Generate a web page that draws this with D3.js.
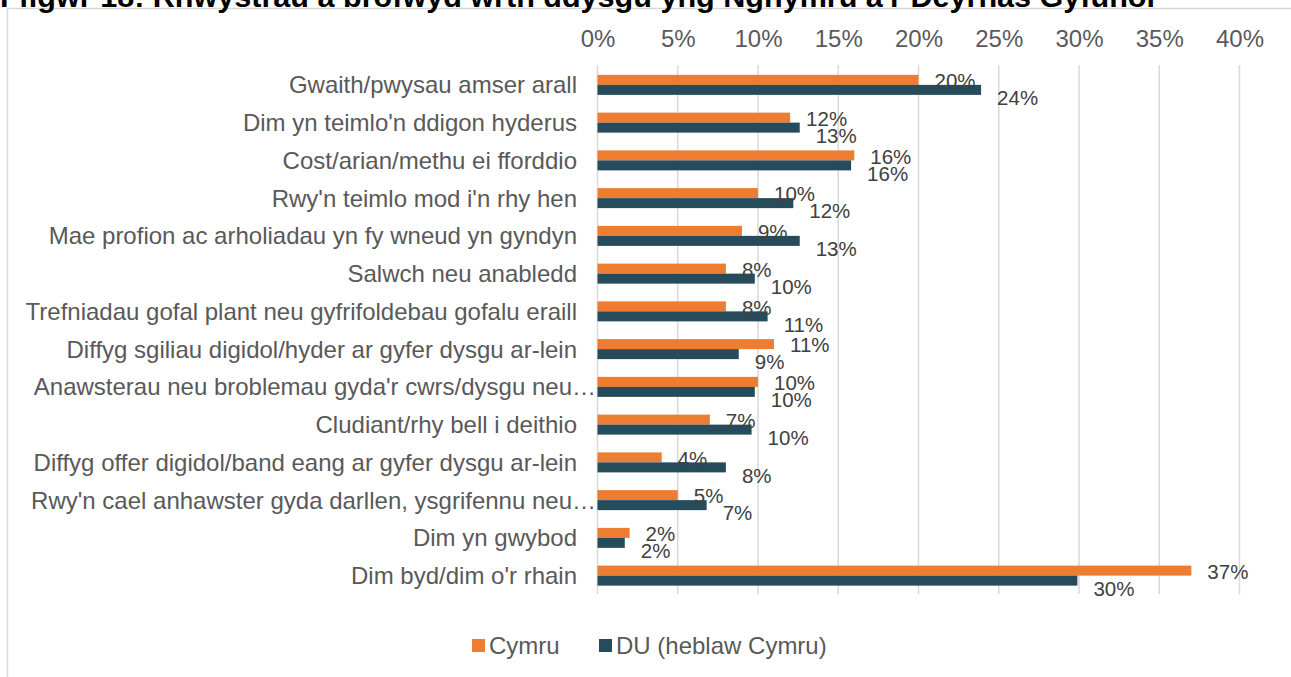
<!DOCTYPE html>
<html>
<head>
<meta charset="utf-8">
<script src="https://cdn.jsdelivr.net/npm/d3@7"></script>
<style>
  html, body { margin: 0; padding: 0; background: #fff; overflow: hidden; }
  text { font-family: "Liberation Sans", Arial, sans-serif; }
</style>
</head>
<body>
<svg id="chart" width="1291" height="677"></svg>
<script>
// chart data
const categories = [
    "Gwaith/pwysau amser arall",
    "Dim yn teimlo'n ddigon hyderus",
    "Cost/arian/methu ei fforddio",
    "Rwy'n teimlo mod i'n rhy hen",
    "Mae profion ac arholiadau yn fy wneud yn gyndyn",
    "Salwch neu anabledd",
    "Trefniadau gofal plant neu gyfrifoldebau gofalu eraill",
    "Diffyg sgiliau digidol/hyder ar gyfer dysgu ar-lein",
    "Anawsterau neu broblemau gyda'r cwrs/dysgu neu\u2026",
    "Cludiant/rhy bell i deithio",
    "Diffyg offer digidol/band eang ar gyfer dysgu ar-lein",
    "Rwy'n cael anhawster gyda darllen, ysgrifennu neu\u2026",
    "Dim yn gwybod",
    "Dim byd/dim o'r rhain"
];
const seriesNames = ["Cymru", "DU (heblaw Cymru)"];
const cymru = [20, 12, 16, 10, 9, 8, 8, 11, 10, 7, 4, 5, 2, 37];
const du = [23.9, 12.6, 15.8, 12.2, 12.6, 9.8, 10.6, 8.8, 9.8, 9.6, 8.0, 6.8, 1.7, 29.9];
const xTicks = [0, 5, 10, 15, 20, 25, 30, 35, 40];

const colors = { "Cymru": "#ed7d31", "DU (heblaw Cymru)": "#264b5a" };

const svg = d3.select("#chart");

// frame of the chart area (runs off the page on the right and bottom)
svg.append("rect")
    .attr("x", 7.5).attr("y", 8.5)
    .attr("width", 1400).attr("height", 800)
    .attr("fill", "none")
    .attr("stroke", "#d9d9d9")
    .attr("stroke-width", 1.5);

// title, mostly cut off at the top
svg.append("text")
    .attr("x", 0).attr("y", 7)
    .attr("font-size", 29)
    .attr("font-weight", "bold")
    .attr("textLength", 1155)
    .attr("lengthAdjust", "spacingAndGlyphs")
    .attr("fill", "#000")
    .text("Ffigwr 18: Rhwystrau a brofwyd wrth ddysgu yng Nghymru a'r Deyrnas Gyfunol");

// scales
const x = d3.scaleLinear().domain([0, 40]).range([597.5, 1239.5]);
const y = d3.scaleBand().domain(categories).range([66, 594.5]);
const ySub = d3.scaleBand().domain(seriesNames).range([-10, 10]);

// gridlines
svg.append("g")
    .selectAll("line")
    .data(xTicks)
    .enter()
    .append("line")
    .attr("x1", (d) => x(d)).attr("x2", (d) => x(d))
    .attr("y1", 65).attr("y2", 594)
    .attr("stroke", "#d9d9d9")
    .attr("stroke-width", 1.5);

// top axis
const axis = svg.append("g")
    .attr("transform", "translate(0,50)")
    .call(d3.axisTop(x).tickValues(xTicks).tickFormat((d) => d + "%").tickSize(0).tickPadding(3));
axis.select(".domain").remove();
axis.selectAll("text")
    .attr("font-size", 24)
    .attr("font-family", "'Liberation Sans', Arial, sans-serif")
    .attr("fill", "#595959");

// category labels (truncated ones let the ellipsis run past the usual edge)
svg.append("g")
    .selectAll("text")
    .data(categories)
    .enter()
    .append("text")
    .attr("x", (d) => d.endsWith("\u2026") ? 596 : 577)
    .attr("y", (d) => y(d) + y.bandwidth() / 2)
    .attr("dy", "0.35em")
    .attr("text-anchor", "end")
    .attr("font-size", 24)
    .attr("fill", "#595959")
    .text((d) => d);

// one row of values per series
const rows = [];
categories.forEach((c, i) => {
    rows.push({ cat: c, series: "Cymru", value: cymru[i] });
    rows.push({ cat: c, series: "DU (heblaw Cymru)", value: du[i] });
});

const mid = (d) => y(d.cat) + y.bandwidth() / 2;

// bars
svg.append("g")
    .selectAll("rect")
    .data(rows)
    .enter()
    .append("rect")
    .attr("x", x(0))
    .attr("y", (d) => mid(d) + ySub(d.series))
    .attr("width", (d) => x(d.value) - x(0))
    .attr("height", ySub.bandwidth())
    .attr("fill", (d) => colors[d.series]);

// data labels
svg.append("g")
    .selectAll("text")
    .data(rows)
    .enter()
    .append("text")
    .attr("x", (d) => x(d.value) + 16)
    .attr("y", (d) => mid(d) + ySub(d.series) + ySub.bandwidth() / 2 + (d.series == "Cymru" ? 1 : 8))
    .attr("dy", "0.35em")
    .attr("font-size", 20.5)
    .attr("fill", "#404040")
    .text((d) => Math.round(d.value) + "%");

// legend
const legendX = [472, 599];
const legend = svg.append("g")
    .selectAll("g")
    .data(seriesNames)
    .enter()
    .append("g")
    .attr("transform", (d, i) => "translate(" + legendX[i] + ",639)");

legend.append("rect")
    .attr("width", 13).attr("height", 13)
    .attr("fill", (d) => colors[d]);

legend.append("text")
    .attr("x", 17).attr("y", 6.5)
    .attr("dy", "0.35em")
    .attr("font-size", 24)
    .attr("fill", "#595959")
    .text((d) => d);
</script>
</body>
</html>
